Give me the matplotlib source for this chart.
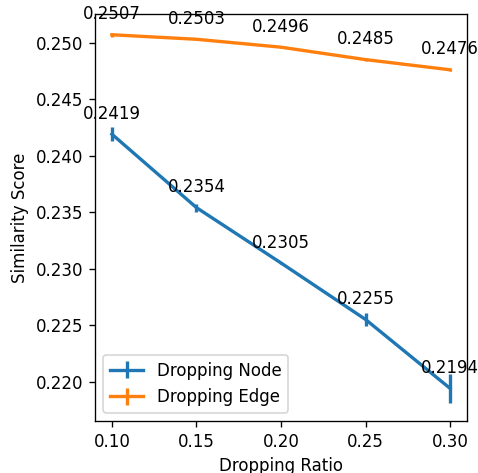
import numpy as np
import matplotlib
matplotlib.use("Agg")
import matplotlib.pyplot as plt

# ── data ──
ratios = [0.10, 0.15, 0.20, 0.25, 0.30]
node_scores = [0.2419, 0.2354, 0.2305, 0.2255, 0.2194]
node_err = [0.0006, 0.00035, 0.0001, 0.0006, 0.00125]
edge_scores = [0.2507, 0.2503, 0.2496, 0.2485, 0.2476]
edge_err = [0.0002, 0.0001, 0.0001, 0.00015, 0.0001]

plt.rcParams["lines.linewidth"] = 2

fig = plt.figure(figsize=(478 / 120, 473 / 120), dpi=120)
ax = fig.add_axes([95 / 478, 1 - 421 / 473, 372 / 478, 407 / 473])

ax.errorbar(ratios, node_scores, yerr=node_err, label="Dropping Node")
ax.errorbar(ratios, edge_scores, yerr=edge_err, label="Dropping Edge")

# value labels above each point
for x, y in zip(ratios, node_scores):
    ax.text(x, y + 0.001, f"{y:.4f}", ha="center", va="bottom")
for x, y in zip(ratios, edge_scores):
    ax.text(x, y + 0.001, f"{y:.4f}", ha="center", va="bottom")

ax.set_xticks(ratios)
ax.set_xlabel("Dropping Ratio")
ax.set_ylabel("Similarity Score")
ax.legend(loc="lower left")

fig.savefig("out.png", dpi=120)
